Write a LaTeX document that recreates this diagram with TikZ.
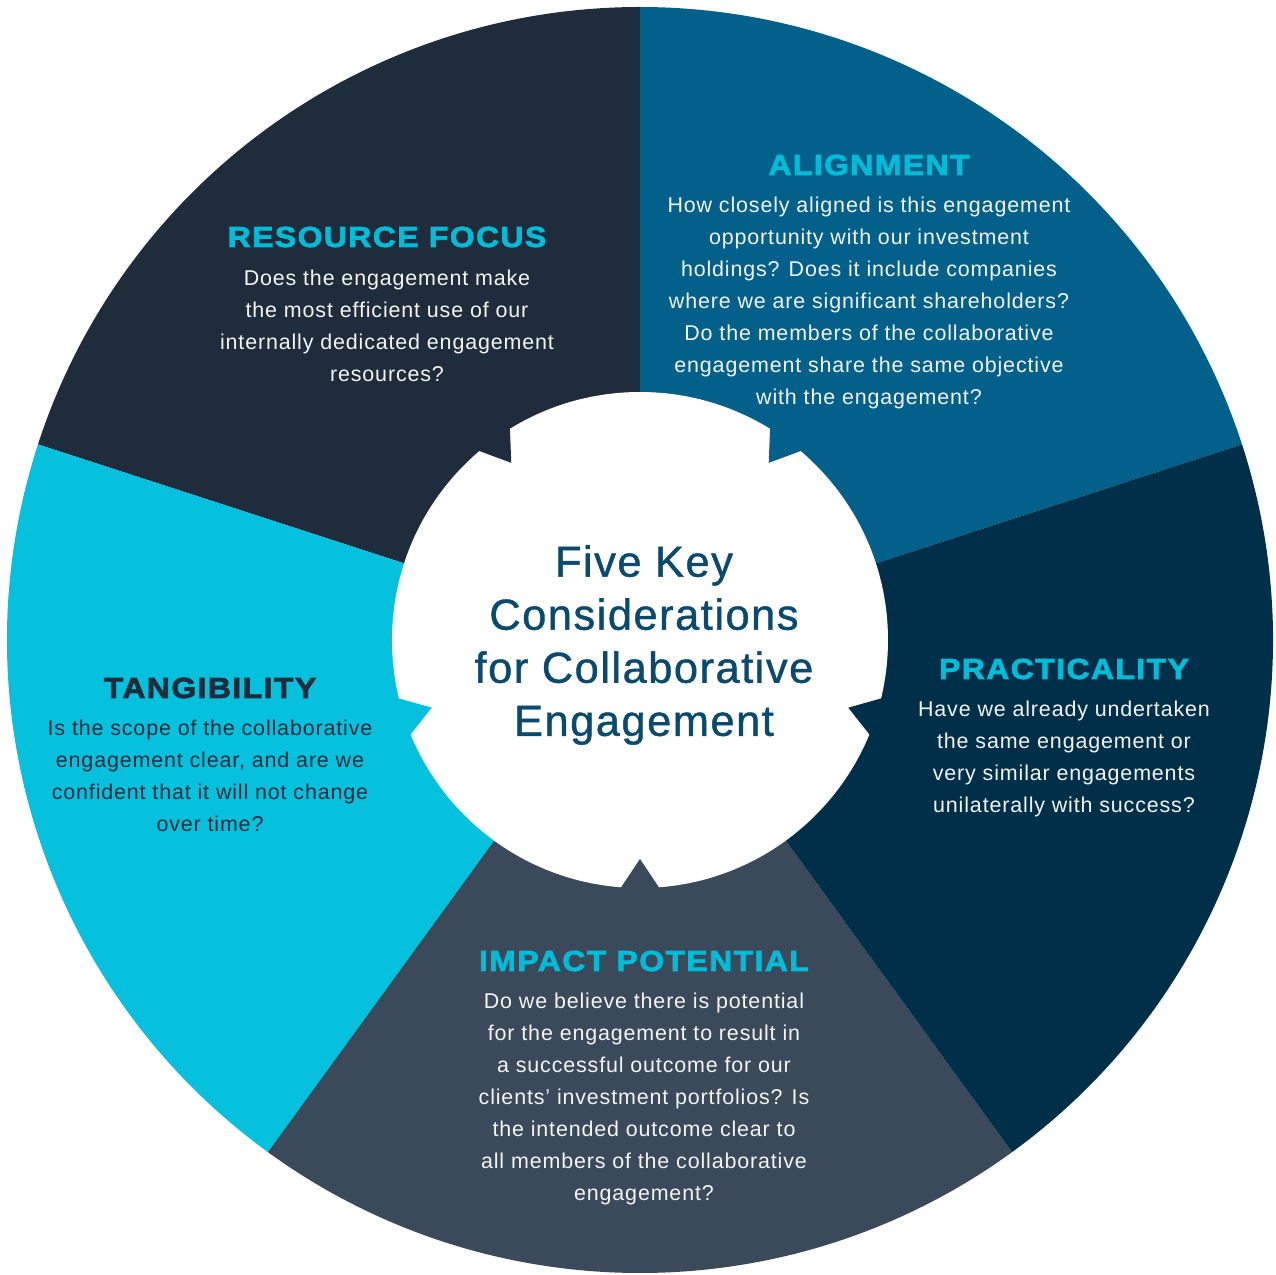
\documentclass[tikz,border=0pt]{standalone}
\usepackage{fontspec}
\setmainfont{Liberation Sans}[LetterSpace=4]
\newfontfamily\headfont{Liberation Sans}[LetterSpace=5,FakeStretch=1.1,FakeBold=2.5]
\newfontfamily\titlefont{Liberation Sans}[LetterSpace=3.5,FakeBold=1]
\usetikzlibrary{positioning}

\definecolor{resdark}{HTML}{1F2C3B}
\definecolor{alignblue}{HTML}{02608A}
\definecolor{practdark}{HTML}{003049}
\definecolor{impactgrey}{HTML}{3B4A5A}
\definecolor{tangcyan}{HTML}{06C1DE}
\definecolor{headcyan}{HTML}{00BCD8}
\definecolor{titleblue}{HTML}{0B4A6F}
\definecolor{bodywhite}{HTML}{F2F4F5}

\begin{document}
\begin{tikzpicture}[x=0.02cm,y=0.02cm,
    head/.style={font=\headfont\bfseries\fontsize{16.5pt}{18pt}\selectfont, text=headcyan, inner sep=0pt},
    body/.style={font=\fontsize{12.2pt}{18.2pt}\selectfont, text=bodywhite, align=center, inner sep=0pt}]
    \useasboundingbox (-640,-635) rectangle (636,640);

    % Five sectors
    \fill[alignblue] (0,0) -- (18:633) arc[start angle=18, end angle=90, radius=633] -- cycle;
    \fill[resdark] (0,0) -- (90:633) arc[start angle=90, end angle=162, radius=633] -- cycle;
    \fill[tangcyan] (0,0) -- (162:633) arc[start angle=162, end angle=234, radius=633] -- cycle;
    \fill[impactgrey] (0,0) -- (234:633) arc[start angle=234, end angle=306, radius=633] -- cycle;
    \fill[practdark] (0,0) -- (306:633) arc[start angle=306, end angle=378, radius=633] -- cycle;

    % Centre disc with notches
    \fill[white] (0,0) circle[radius=248];
    \foreach \a/\c in {54/alignblue, 126/resdark, 198/tangcyan, 270/impactgrey, 342/practdark}
        \fill[\c] (\a-5:253) -- (\a:219) -- (\a+5:253) -- cycle;

    % Title
    \node[font=\titlefont\fontsize{24.7pt}{30.2pt}\selectfont, text=titleblue, align=center, inner sep=0pt] (title) at (4,-5)
        {Five Key\\Considerations\\for Collaborative\\Engagement};

    % Resource focus
    \node[head] (resHead) at (-253,403) {RESOURCE FOCUS};
    \node[body, below=0.44cm of resHead] (resText)
        {Does the engagement make\\the most efficient use of our\\internally dedicated engagement\\resources?};

    % Alignment
    \node[head] (alignHead) at (229,475) {ALIGNMENT};
    \node[body, below=0.42cm of alignHead] (alignText)
        {How closely aligned is this engagement\\opportunity with our investment\\holdings? Does it include companies\\where we are significant shareholders?\\Do the members of the collaborative\\engagement share the same objective\\with the engagement?};

    % Practicality
    \node[head] (practHead) at (424,-29) {PRACTICALITY};
    \node[body, below=0.42cm of practHead] (practText)
        {Have we already undertaken\\the same engagement or\\very similar engagements\\unilaterally with success?};

    % Tangibility
    \node[head, text=resdark] (tangHead) at (-430,-48) {TANGIBILITY};
    \node[body, text=resdark, below=0.42cm of tangHead] (tangText)
        {Is the scope of the collaborative\\engagement clear, and are we\\confident that it will not change\\over time?};

    % Impact potential
    \node[head] (impactHead) at (4,-321) {IMPACT POTENTIAL};
    \node[body, below=0.42cm of impactHead] (impactText)
        {Do we believe there is potential\\for the engagement to result in\\a successful outcome for our\\clients’ investment portfolios? Is\\the intended outcome clear to\\all members of the collaborative\\engagement?};
\end{tikzpicture}
\end{document}
